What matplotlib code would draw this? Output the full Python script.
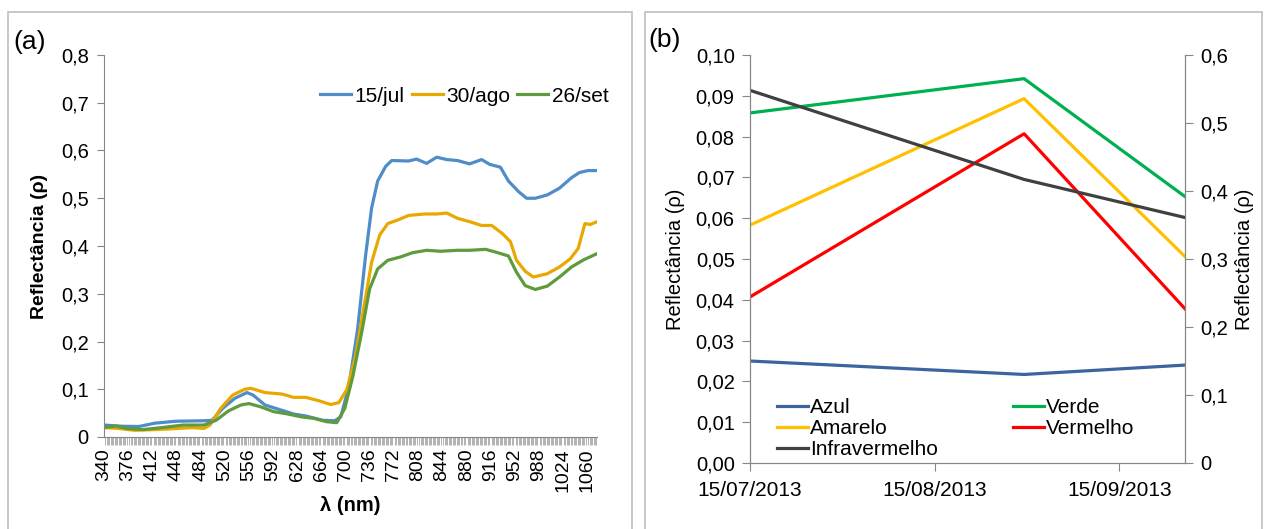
import matplotlib.pyplot as plt
import matplotlib.dates as mdates
import numpy as np
import pandas as pd
from matplotlib.patches import Rectangle
from matplotlib.ticker import FixedLocator, MultipleLocator, FuncFormatter

plt.rcParams['font.family'] = ['Liberation Sans', 'DejaVu Sans']

# (a) espectros
wl_jul = [340, 367, 392, 416, 447, 489, 501, 517, 535, 553, 562, 580, 605, 623, 641,
          666, 684, 693, 705, 718, 730, 739, 748, 760, 769, 794, 806, 821, 836, 851,
          867, 885, 903, 915, 931, 943, 958, 970, 983, 1001, 1019, 1037, 1049, 1062, 1075]
rho_jul = [0.025, 0.0225, 0.022, 0.029, 0.033, 0.034, 0.035, 0.060, 0.081, 0.093, 0.088,
           0.067, 0.056, 0.048, 0.044, 0.035, 0.034, 0.042, 0.106, 0.225, 0.380, 0.480,
           0.536, 0.567, 0.579, 0.578, 0.582, 0.573, 0.586, 0.581, 0.579, 0.572, 0.581,
           0.571, 0.565, 0.536, 0.514, 0.500, 0.500, 0.507, 0.521, 0.543, 0.554, 0.558, 0.558]

wl_ago = [340, 361, 386, 416, 447, 471, 489, 498, 514, 532, 550, 559, 580, 605, 623,
          641, 660, 678, 690, 702, 715, 727, 739, 751, 763, 779, 794, 818, 836, 851,
          867, 885, 903, 918, 934, 946, 955, 968, 980, 1001, 1019, 1035, 1047, 1057, 1065, 1075]
rho_ago = [0.0197, 0.018, 0.014, 0.0155, 0.0176, 0.0197, 0.018, 0.025, 0.060, 0.088,
           0.100, 0.102, 0.093, 0.090, 0.083, 0.083, 0.076, 0.068, 0.072, 0.099, 0.169,
           0.268, 0.366, 0.423, 0.447, 0.455, 0.464, 0.467, 0.467, 0.469, 0.458, 0.451,
           0.443, 0.443, 0.426, 0.409, 0.370, 0.347, 0.335, 0.342, 0.356, 0.373, 0.395,
           0.447, 0.445, 0.451]

wl_set = [340, 358, 373, 398, 428, 458, 489, 507, 526, 544, 556, 574, 593, 611, 635,
          653, 672, 687, 699, 711, 724, 736, 748, 763, 782, 800, 821, 842, 867, 885,
          909, 927, 943, 955, 968, 983, 1001, 1019, 1037, 1055, 1075]
rho_set = [0.020, 0.023, 0.018, 0.0155, 0.020, 0.025, 0.025, 0.035, 0.055, 0.067, 0.070,
           0.063, 0.053, 0.049, 0.042, 0.039, 0.032, 0.030, 0.060, 0.127, 0.218, 0.310,
           0.352, 0.370, 0.377, 0.386, 0.391, 0.389, 0.391, 0.391, 0.393, 0.386, 0.379,
           0.345, 0.317, 0.309, 0.316, 0.335, 0.356, 0.371, 0.384]

# (b) reflectância por banda
datas = pd.to_datetime(['2013-07-15', '2013-08-30', '2013-09-26'])
azul = [0.0250, 0.0217, 0.0240]
verde = [0.0858, 0.0942, 0.0653]
amarelo = [0.0583, 0.0893, 0.0506]
vermelho = [0.0407, 0.0807, 0.0378]
infravermelho = [0.548, 0.417, 0.361]

W, H = 1267, 529
fig = plt.figure(figsize=(W / 100, H / 100), dpi=100)

# molduras dos painéis
fig.add_artist(Rectangle((8 / W, -0.05), 624 / W, 1.05 - 12 / H, transform=fig.transFigure,
                         fill=False, ec='#BFBFBF', lw=1.2))
fig.add_artist(Rectangle((645 / W, -0.05), 617 / W, 1.05 - 12 / H, transform=fig.transFigure,
                         fill=False, ec='#BFBFBF', lw=1.2))

grey = '#868686'

# ---------- painel (a)
ax = fig.add_axes([104 / W, 1 - 437 / H, 493 / W, 382 / H])
ax.plot(wl_jul, rho_jul, color='#4F8CC9', lw=2.3, label='15/jul')
ax.plot(wl_ago, rho_ago, color='#E8A800', lw=2.3, label='30/ago')
ax.plot(wl_set, rho_set, color='#5E9B3C', lw=2.3, label='26/set')
ax.set_xlim(340, 1075)
ax.set_ylim(0, 0.8)
ax.set_yticks(np.arange(0, 0.81, 0.1))
ax.yaxis.set_major_formatter(FuncFormatter(lambda v, p: '0' if v == 0 else f'{v:.1f}'.replace('.', ',')))
ax.xaxis.set_major_locator(FixedLocator(np.arange(340, 1061, 36)))
ax.xaxis.set_minor_locator(MultipleLocator(2))
ax.tick_params(axis='x', which='major', length=0, labelsize=14, labelrotation=90, pad=8)
ax.tick_params(axis='x', which='minor', length=6, width=0.6, color='#A6A6A6')
ax.tick_params(axis='y', length=5, color=grey, labelsize=14.5, pad=6)
for s in ['top', 'right']:
    ax.spines[s].set_visible(False)
for s in ['left', 'bottom']:
    ax.spines[s].set_color(grey)
ax.set_ylabel('Reflectância (ρ)', fontsize=14, fontweight='bold', labelpad=9)
ax.set_xlabel('λ (nm)', fontsize=14.5, fontweight='bold', labelpad=3)
ax.legend(loc='upper right', bbox_to_anchor=(1.061, 0.966), ncol=3, frameon=False,
          fontsize=15, handlelength=1.5, handletextpad=0.15, columnspacing=0.35)
fig.text(13 / W, 1 - 42 / H, '(a)', fontsize=19, va='center')

# ---------- painel (b)
ax1 = fig.add_axes([750 / W, 1 - 463 / H, 435 / W, 408 / H])
ax2 = ax1.twinx()
l1, = ax1.plot(datas, azul, color='#3C64A0', lw=2.3, label='Azul')
l2, = ax1.plot(datas, verde, color='#00B050', lw=2.3, label='Verde')
l3, = ax1.plot(datas, amarelo, color='#FFC000', lw=2.3, label='Amarelo')
l4, = ax1.plot(datas, vermelho, color='#FF0000', lw=2.3, label='Vermelho')
l5, = ax2.plot(datas, infravermelho, color='#404040', lw=2.3, label='Infravermelho')
ax1.set_xlim(datas[0], datas[-1])
ax1.set_ylim(0, 0.10)
ax2.set_ylim(0, 0.6)
ax1.set_yticks(np.arange(0, 0.101, 0.01))
ax2.set_yticks(np.arange(0, 0.61, 0.1))
ax1.yaxis.set_major_formatter(FuncFormatter(lambda v, p: f'{v:.2f}'.replace('.', ',')))
ax2.yaxis.set_major_formatter(FuncFormatter(lambda v, p: '0' if v == 0 else f'{v:.1f}'.replace('.', ',')))
ax1.set_xticks(pd.to_datetime(['2013-07-15', '2013-08-15', '2013-09-15']))
ax1.xaxis.set_major_formatter(mdates.DateFormatter('%d/%m/%Y'))
ax1.tick_params(axis='x', length=6, color=grey, labelsize=15, pad=7)
ax1.tick_params(axis='y', length=6, color=grey, labelsize=14.5, pad=5)
ax2.tick_params(axis='y', length=6, color=grey, labelsize=14.5, pad=5)
for a in [ax1, ax2]:
    a.spines['top'].set_visible(False)
    for s in ['left', 'right', 'bottom']:
        a.spines[s].set_color(grey)
ax1.set_ylabel('Reflectância (ρ)', fontsize=14.5, labelpad=8)
ax2.set_ylabel('Reflectância (ρ)', fontsize=14.5, labelpad=5)
ax2.legend(handles=[l1, l3, l5, l2, l4], loc='lower left', bbox_to_anchor=(0.033, -0.022),
           ncol=2, frameon=False, fontsize=15, handlelength=1.5, handletextpad=0.1,
           labelspacing=0.1, columnspacing=3.6, borderaxespad=0.2)
fig.text(648 / W, 1 - 40 / H, '(b)', fontsize=19, va='center')

plt.savefig('out.png', dpi=100)
